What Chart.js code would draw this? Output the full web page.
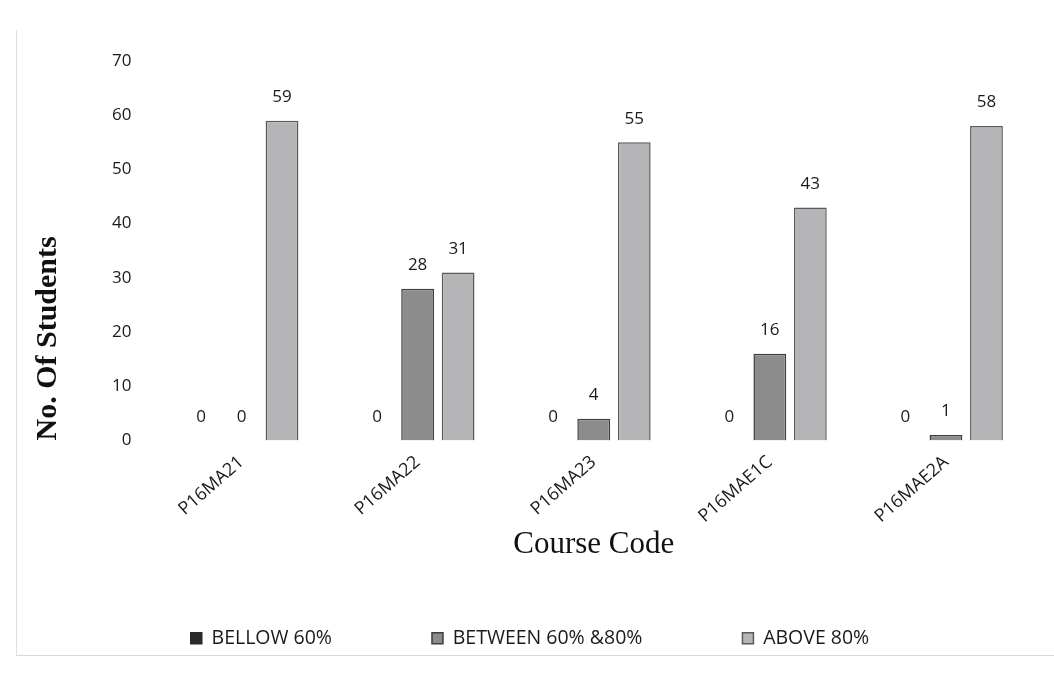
<!DOCTYPE html>
<html>
<head>
<meta charset="utf-8">
<script src="https://cdn.jsdelivr.net/npm/chart.js@4"></script>
<style>
  html, body { margin: 0; padding: 0; background: #fff; }
  #frame {
    position: absolute; left: 16px; top: 30px; width: 1038px; height: 625px;
    border-left: 1px solid #e4dede; border-bottom: 1px solid #d8d8d8;
  }
  #wrap { position: absolute; left: 0; top: 0; width: 1054px; height: 673px; }
</style>
</head>
<body>
<div id="frame"></div>
<div id="wrap"><canvas id="chart"></canvas></div>
<script>
const courses = ["P16MA21", "P16MA22", "P16MA23", "P16MAE1C", "P16MAE2A"];
const bellow60 = [0, 0, 0, 0, 0];
const between60and80 = [0, 28, 4, 16, 1];
const above80 = [59, 31, 55, 43, 58];
const yTicks = [0, 10, 20, 30, 40, 50, 60, 70];

// draw the value above every bar, zeros too
const valueLabels = {
  id: "valueLabels",
  afterDatasetsDraw(chart) {
    const ctx = chart.ctx;
    ctx.save();
    ctx.font = "17px 'Open Sans'";
    ctx.fillStyle = "#1a1a1a";
    ctx.textAlign = "center";
    ctx.textBaseline = "bottom";
    chart.data.datasets.forEach((ds, i) => {
      chart.getDatasetMeta(i).data.forEach((bar, j) => {
        ctx.fillText(ds.data[j], bar.x, bar.y - 15);
      });
    });
    ctx.restore();
  }
};

new Chart(document.getElementById("chart"), {
  type: "bar",
  data: {
    labels: courses,
    datasets: [
      { label: "BELLOW 60%", data: bellow60, backgroundColor: "#2b2b2b", borderColor: "#2b2b2b", borderWidth: 1.5 },
      { label: "BETWEEN 60% &80%", data: between60and80, backgroundColor: "#8c8c8c", borderColor: "#3e3e3e", borderWidth: 1.5 },
      { label: "ABOVE 80%", data: above80, backgroundColor: "#b5b5b8", borderColor: "#5a5a5a", borderWidth: 1.5 }
    ]
  },
  options: {
    responsive: true,
    maintainAspectRatio: false,
    animation: false,
    layout: { padding: { left: 26, right: 20, top: 61, bottom: 15 } },
    datasets: { bar: { categoryPercentage: 0.69, barPercentage: 0.81 } },
    plugins: {
      tooltip: { enabled: false },
      legend: {
        position: "bottom",
        labels: {
          boxWidth: 11, boxHeight: 11, padding: 100,
          color: "#1a1a1a",
          font: { family: "'Open Sans'", size: 19.5 }
        }
      }
    },
    scales: {
      x: {
        grid: { display: false },
        border: { display: false },
        ticks: {
          minRotation: 41, maxRotation: 41,
          color: "#1a1a1a",
          font: { family: "'Open Sans'", size: 18 }
        },
        title: {
          display: true, text: "Course Code",
          color: "#111",
          font: { family: "'Liberation Serif'", size: 31 },
          padding: { top: -4, bottom: -35 }
        }
      },
      y: {
        min: 0, max: 70,
        afterBuildTicks(axis) { axis.ticks = yTicks.map(v => ({ value: v })); },
        grid: { display: false },
        border: { display: false },
        ticks: {
          padding: 14,
          color: "#1a1a1a",
          font: { family: "'Open Sans'", size: 17 }
        },
        title: {
          display: true, text: "No. Of Students", align: "start",
          color: "#111",
          font: { family: "'Liberation Serif'", size: 30, weight: "bold" },
          padding: { bottom: 32 }
        }
      }
    }
  },
  plugins: [valueLabels]
});
</script>
</body>
</html>
